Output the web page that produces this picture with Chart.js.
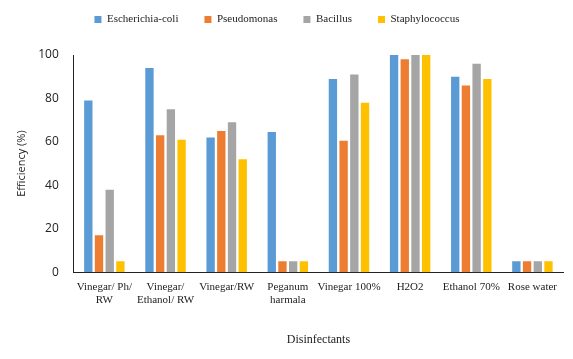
<!DOCTYPE html>
<html><head><meta charset="utf-8">
<script src="https://cdn.jsdelivr.net/npm/chart.js@4"></script>
<style>html,body{margin:0;padding:0;background:#fff}#wrap{width:573px;height:359px}</style>
</head><body><div id="wrap"><canvas id="c"></canvas></div>
<script>
const categories = [["Vinegar/ Ph/","RW"],["Vinegar/","Ethanol/ RW"],"Vinegar/RW",["Peganum","harmala"],"Vinegar 100%","H2O2","Ethanol 70%","Rose water"];
const ecoli = [79, 94, 62, 64.5, 89, 100, 90, 5];
const pseudomonas = [17, 63, 65, 5, 60.5, 98, 86, 5];
const bacillus = [38, 75, 69, 5, 91, 100, 96, 5];
const staph = [5, 61, 52, 5, 78, 100, 89, 5];
const yTicks = [0, 20, 40, 60, 80, 100];

const serif = "'Liberation Serif', 'DejaVu Serif', serif";
const sans = "'Open Sans', 'Liberation Sans', sans-serif";
function ds(label, data, color){return {label, data, backgroundColor: color, borderWidth: 0, categoryPercentage: 0.7, barPercentage: 0.78};}
const legendTweak = {id: 'legendTweak',
  beforeInit(chart){ const orig = chart.legend.fit; chart.legend.fit = function(){ orig.call(this); this.height += 20; }; },
  afterLayout(chart){ chart.legend.left -= 12; chart.legend.right -= 12; }
};
new Chart(document.getElementById('c'), {
  type: 'bar',
  data: {labels: categories, datasets: [
    ds('Escherichia-coli', ecoli, '#5B9BD5'),
    ds('Pseudomonas', pseudomonas, '#ED7D31'),
    ds('Bacillus', bacillus, '#A5A5A5'),
    ds('Staphylococcus', staph, '#FFC000')
  ]},
  plugins: [legendTweak],
  options: {
    responsive: true, maintainAspectRatio: false, animation: false,
    layout: {padding: {left: 15, right: 10, top: -12, bottom: 8}},
    plugins: {
      tooltip: {enabled: false},
      legend: {position: 'top', labels: {boxWidth: 7, boxHeight: 7, padding: 26, color: '#222', font: {family: serif, size: 11}}},
    },
    scales: {
      x: {
        grid: {display: false, drawTicks: false},
        border: {display: true, color: '#222', width: 1},
        ticks: {color: '#222', font: {family: serif, size: 11}, maxRotation: 0, autoSkip: false, padding: 8},
        title: {display: true, text: 'Disinfectants', color: '#222', font: {family: serif, size: 12}, padding: {top: 18}}
      },
      y: {
        min: 0, max: 100,
        afterBuildTicks: a => { a.ticks = yTicks.map(v => ({value: v})); },
        grid: {display: false, drawTicks: false},
        border: {display: true, color: '#222', width: 1},
        ticks: {color: '#222', font: {family: sans, size: 12}, padding: 15},
        title: {display: true, text: 'Efficiency (%)', color: '#222', font: {family: sans, size: 11}, padding: {top: 0, bottom: -5}}
      }
    }
  }
});
</script></body></html>
